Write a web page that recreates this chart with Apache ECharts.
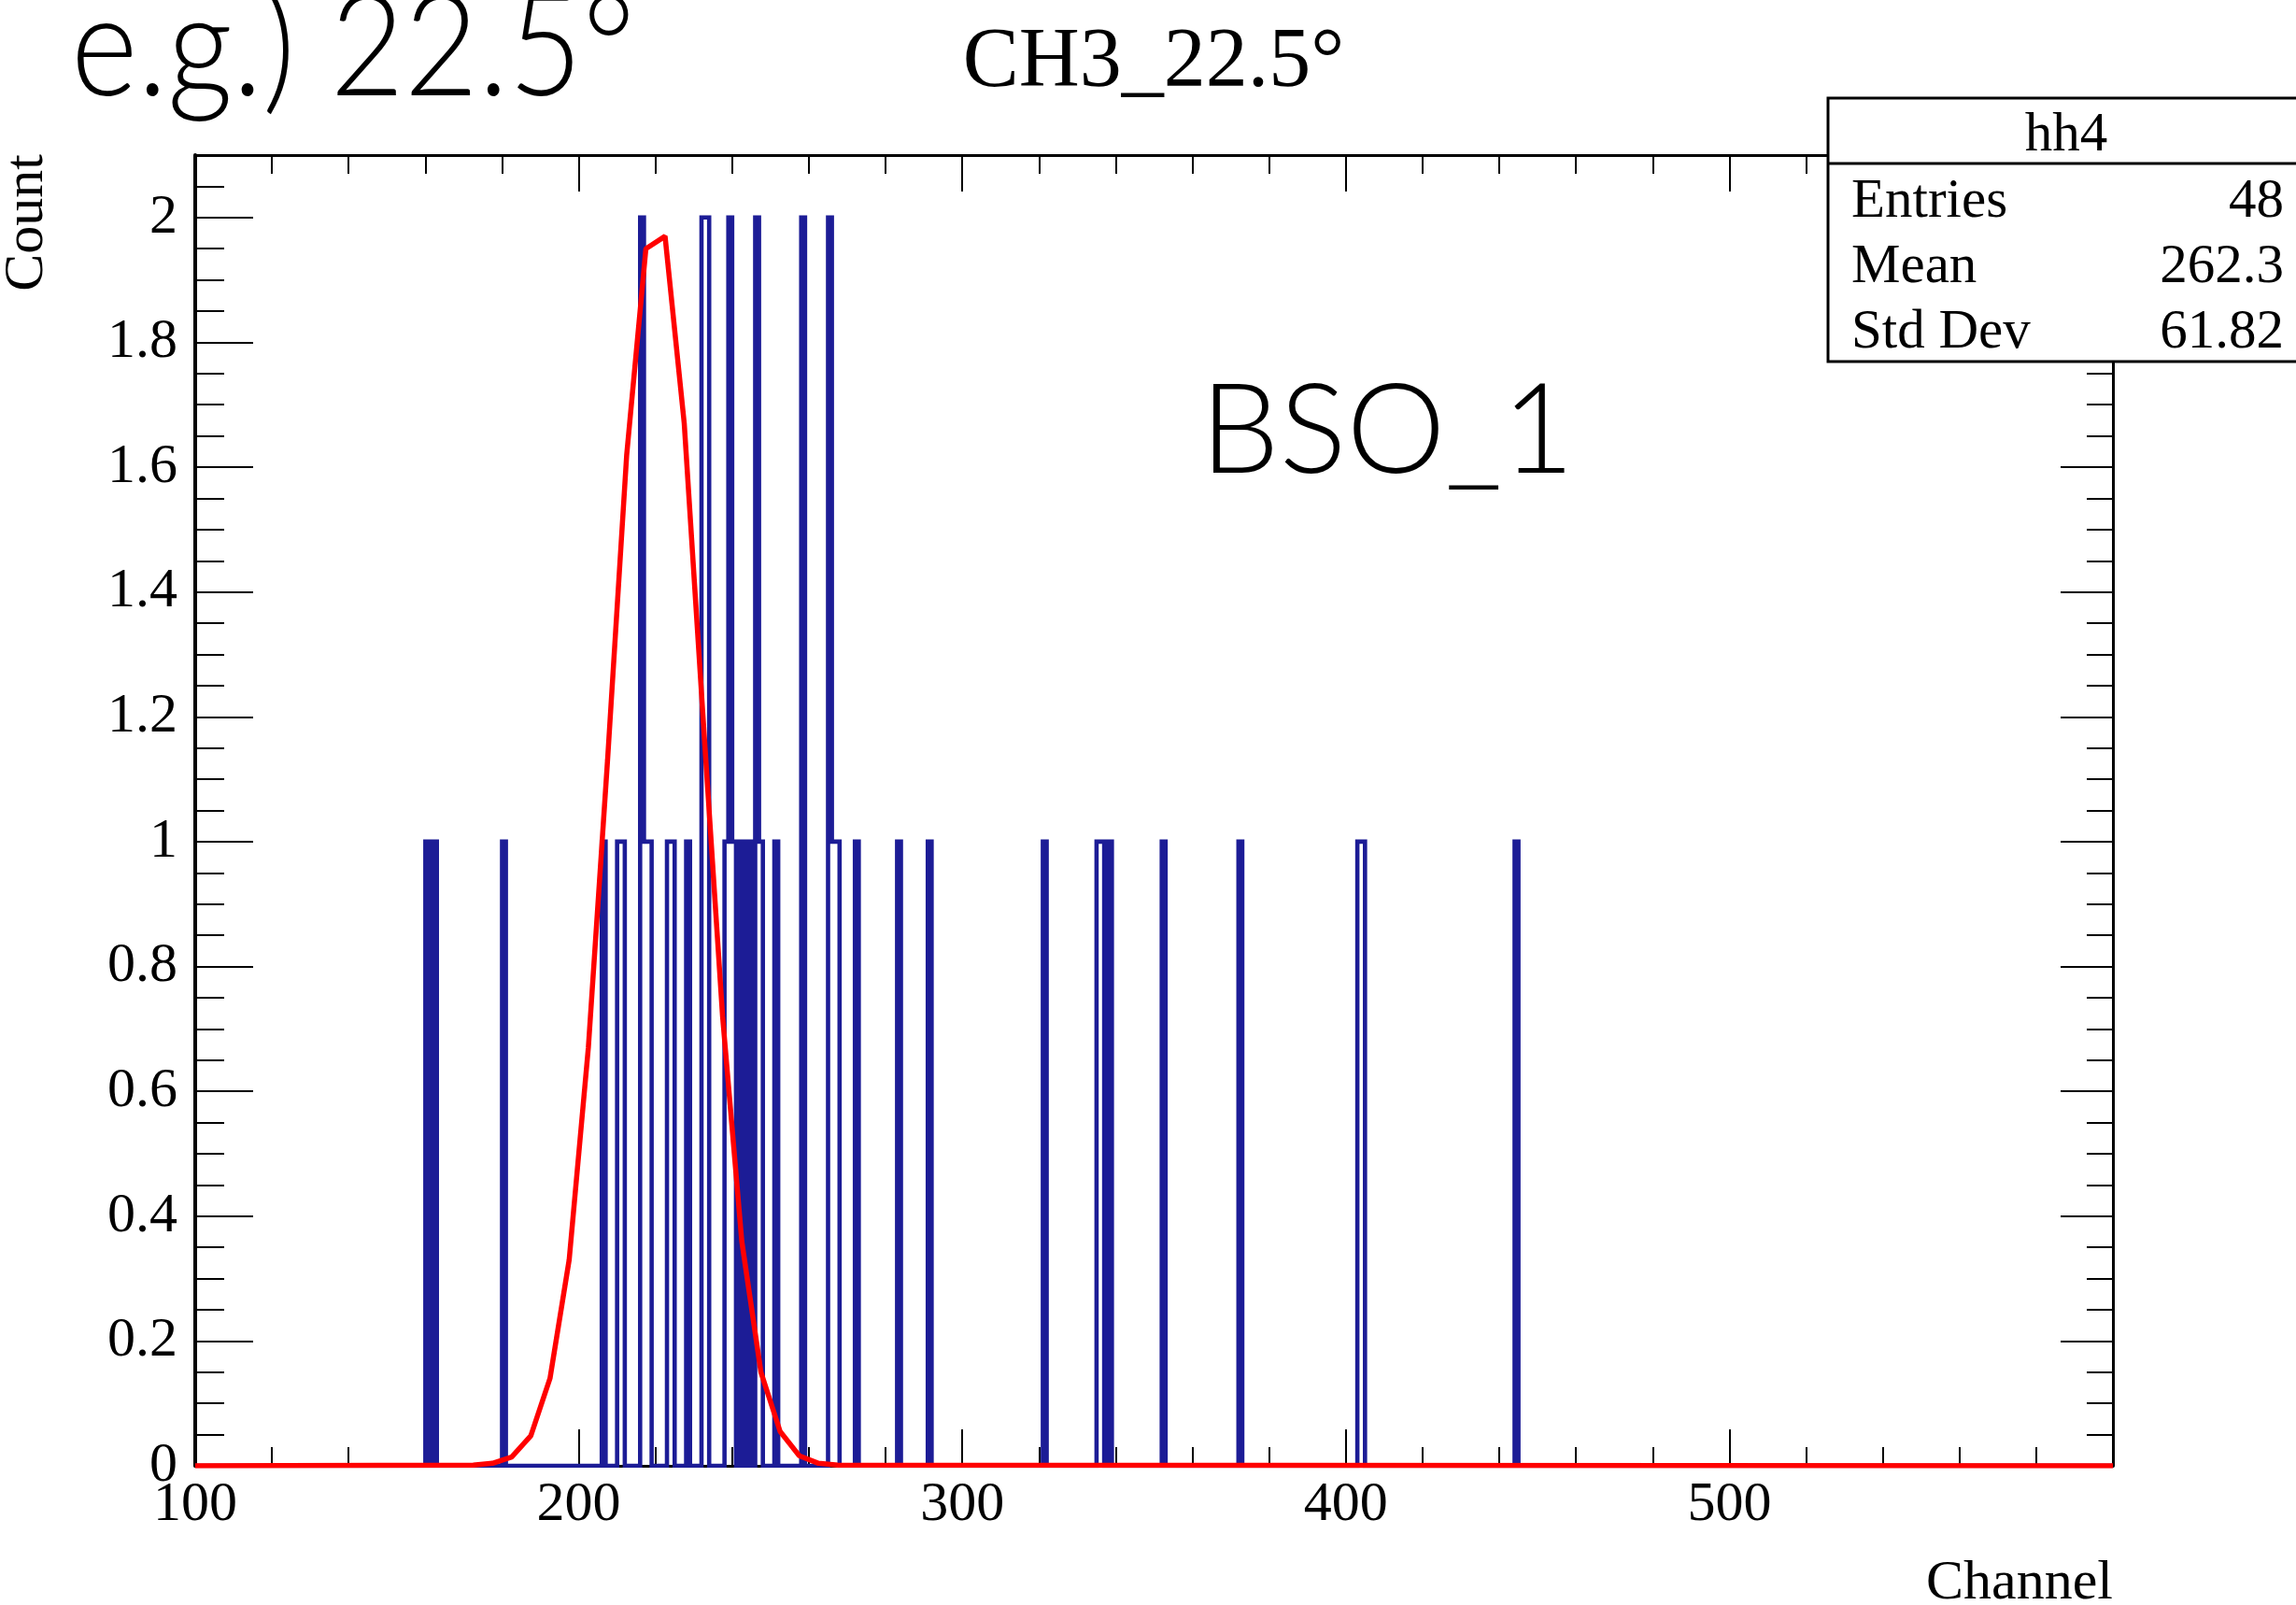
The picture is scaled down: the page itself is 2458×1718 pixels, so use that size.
<!DOCTYPE html>
<html>
<head>
<meta charset="utf-8">
<title>CH3_22.5°</title>
<script src="https://cdn.jsdelivr.net/npm/echarts@6/dist/echarts.min.js"></script>
<style>
  html, body { margin: 0; padding: 0; background: #ffffff; }
  #chart { width: 2458px; height: 1718px; }
</style>
</head>
<body>
<div id="chart"></div>
<script>
// Histogram hh4: lower edge of each filled 1-channel bin and its count
const binLow = [160, 162, 180, 206, 210, 211, 216, 217, 218, 223, 224, 228, 232, 233,
                238, 239, 240, 242, 244, 246, 247, 251, 258, 265, 266, 267, 272, 283,
                291, 321, 335, 336, 338, 352, 372, 403, 404, 444];
const binCount = [1, 1, 1, 1, 1, 1, 2, 1, 1, 1, 1, 1, 2, 2,
                  1, 2, 1, 1, 1, 2, 1, 1, 2, 2, 1, 1, 1, 1,
                  1, 1, 1, 1, 1, 1, 1, 1, 1, 1];

// Gaussian fit curve, sampled points (channel, count)
const fitX = [100, 172.5, 177.5, 182.5, 187.5, 192.5, 197.5, 202.5, 207.5, 212.5, 217.5,
              222.5, 227.5, 232.5, 237.5, 242.5, 247.5, 252.5, 257.5, 262.5, 267.5, 600];
const fitY = [0, 0.001, 0.004, 0.014, 0.048, 0.14, 0.33, 0.67, 1.13, 1.62, 1.95,
              1.97, 1.67, 1.19, 0.72, 0.36, 0.15, 0.055, 0.016, 0.004, 0.001, 0];

// Axis tick labels
const xTickLabels = ['100', '200', '300', '400', '500'];
const yTickLabels = ['0', '0.2', '0.4', '0.6', '0.8', '1', '1.2', '1.4', '1.6', '1.8', '2'];

// Statistics box
const statTitle = 'hh4';
const statNames = ['Entries', 'Mean', 'Std Dev'];
const statValues = ['48', '262.3', '61.82'];

const SERIF = '"Liberation Serif", "Times New Roman", Times, serif';
const SANS = 'Lato, "Noto Sans", sans-serif';
const X_MIN = 100, X_MAX = 600;

// Step outline of the histogram: rises at a bin's lower edge, drops after its last filled neighbour
function histogramOutline(lows, counts, lo, hi) {
  const pts = [[lo, 0]];
  lows.forEach(function (b, i) {
    pts.push([b, counts[i]]);
    if (lows[i + 1] !== b + 1) pts.push([b + 1, 0]);
  });
  pts.push([hi, 0]);
  return pts;
}

function labelFrom(list) {
  return function (v) {
    const s = String(Math.round(v * 1000) / 1000);
    return list.indexOf(s) >= 0 ? s : '';
  };
}

const tickLine = { color: '#000', width: 2 };

const chart = echarts.init(document.getElementById('chart'), null, { renderer: 'canvas' });

chart.setOption({
  animation: false,
  backgroundColor: '#ffffff',
  grid: { left: 209, right: 196, top: 166, bottom: 149, containLabel: false },
  xAxis: [
    {
      type: 'value', min: X_MIN, max: X_MAX, interval: 100, position: 'bottom',
      axisLine: { show: true, onZero: false, lineStyle: { color: '#000', width: 3 } },
      axisTick: { show: true, inside: true, length: 39, lineStyle: tickLine },
      minorTick: { show: true, splitNumber: 5, length: 20, lineStyle: tickLine },
      splitLine: { show: false }, minorSplitLine: { show: false },
      axisLabel: {
        show: true, margin: 12, color: '#000', fontFamily: SERIF, fontSize: 60,
        showMinLabel: true, showMaxLabel: false, formatter: labelFrom(xTickLabels)
      }
    },
    {
      type: 'value', min: X_MIN, max: X_MAX, interval: 100, position: 'top',
      axisLine: { show: true, onZero: false, lineStyle: { color: '#000', width: 3 } },
      axisTick: { show: true, inside: true, length: 39, lineStyle: tickLine },
      minorTick: { show: true, splitNumber: 5, length: 20, lineStyle: tickLine },
      splitLine: { show: false }, minorSplitLine: { show: false },
      axisLabel: { show: false }
    }
  ],
  yAxis: [
    {
      type: 'value', min: 0, max: 2.1, interval: 0.2, position: 'left',
      axisLine: { show: true, onZero: false, lineStyle: { color: '#000', width: 4 } },
      axisTick: { show: true, inside: true, length: 62, lineStyle: tickLine },
      minorTick: { show: true, splitNumber: 4, length: 31, lineStyle: tickLine },
      splitLine: { show: false }, minorSplitLine: { show: false },
      axisLabel: {
        show: true, margin: 19, color: '#000', fontFamily: SERIF, fontSize: 60,
        showMinLabel: true, showMaxLabel: false, formatter: labelFrom(yTickLabels)
      }
    },
    {
      type: 'value', min: 0, max: 2.1, interval: 0.2, position: 'right',
      axisLine: { show: true, onZero: false, lineStyle: { color: '#000', width: 3 } },
      axisTick: { show: true, inside: true, length: 56, lineStyle: tickLine },
      minorTick: { show: true, splitNumber: 4, length: 28, lineStyle: tickLine },
      splitLine: { show: false }, minorSplitLine: { show: false },
      axisLabel: { show: false }
    }
  ],
  series: [
    {
      name: statTitle, type: 'line', xAxisIndex: 0, yAxisIndex: 0,
      data: histogramOutline(binLow, binCount, X_MIN, X_MAX),
      step: 'end', symbol: 'none', showSymbol: false, clip: true,
      lineStyle: { color: '#1c1c96', width: 4.6, join: 'miter' },
      itemStyle: { color: '#1c1c96' }, z: 2
    },
    {
      name: 'gaus', type: 'line', xAxisIndex: 0, yAxisIndex: 0,
      data: fitX.map(function (x, i) { return [x, fitY[i]]; }),
      symbol: 'none', showSymbol: false, clip: true,
      lineStyle: { color: '#ff0000', width: 5.5 },
      itemStyle: { color: '#ff0000' }, z: 3
    }
  ],
  graphic: [
    { type: 'text', x: 76, y: 53, scaleX: 0.9, z: 10,
      style: { text: 'e.g.) 22.5°', font: '300 152px ' + SANS, fill: '#000',
               align: 'left', textAlign: 'left', verticalAlign: 'middle', textVerticalAlign: 'middle' } },
    { type: 'text', x: 1235, y: 68, z: 10,
      style: { text: 'CH3_22.5°', font: '90px ' + SERIF, fill: '#000',
               align: 'center', textAlign: 'center', verticalAlign: 'middle', textVerticalAlign: 'middle' } },
    { type: 'text', x: 1285, y: 463, z: 10,
      style: { text: 'BSO_1', font: '300 134px ' + SANS, fill: '#000',
               align: 'left', textAlign: 'left', verticalAlign: 'middle', textVerticalAlign: 'middle' } },
    { type: 'text', x: 29, y: 165, rotation: Math.PI / 2, z: 10,
      style: { text: 'Count', font: '60px ' + SERIF, fill: '#000',
               align: 'right', textAlign: 'right', verticalAlign: 'middle', textVerticalAlign: 'middle' } },
    { type: 'text', x: 2262, y: 1695, z: 10,
      style: { text: 'Channel', font: '60px ' + SERIF, fill: '#000',
               align: 'right', textAlign: 'right', verticalAlign: 'middle', textVerticalAlign: 'middle' } },
    { type: 'rect', z: 20, shape: { x: 1957, y: 105, width: 512, height: 282 },
      style: { fill: '#ffffff', stroke: '#000', lineWidth: 3 } },
    { type: 'line', z: 21, shape: { x1: 1957, y1: 175, x2: 2469, y2: 175 },
      style: { stroke: '#000', lineWidth: 3 } },
    { type: 'text', x: 2212, y: 145, z: 22,
      style: { text: statTitle, font: '59px ' + SERIF, fill: '#000',
               align: 'center', textAlign: 'center', verticalAlign: 'middle', textVerticalAlign: 'middle' } }
  ].concat(statNames.map(function (n, i) {
    return { type: 'text', x: 1982, y: 216 + i * 70, z: 22,
      style: { text: n, font: '59px ' + SERIF, fill: '#000',
               align: 'left', textAlign: 'left', verticalAlign: 'middle', textVerticalAlign: 'middle' } };
  })).concat(statValues.map(function (v, i) {
    return { type: 'text', x: 2445, y: 216 + i * 70, z: 22,
      style: { text: v, font: '59px ' + SERIF, fill: '#000',
               align: 'right', textAlign: 'right', verticalAlign: 'middle', textVerticalAlign: 'middle' } };
  }))
});
</script>
</body>
</html>
